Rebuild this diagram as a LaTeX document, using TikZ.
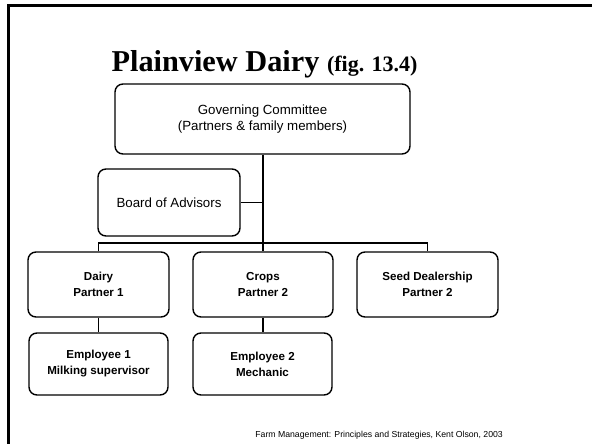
\documentclass[tikz,border=0pt]{standalone}
\usepackage{fontspec}
\setmainfont{Liberation Sans}
\newfontfamily\titlefont{Liberation Serif}
\begin{document}
\begin{tikzpicture}[x=1pt,y=-1pt,
  orgbox/.style={draw=black,line width=1.4pt,rounded corners=8pt,align=center,inner sep=0pt},
  plainbox/.style={orgbox,font=\fontsize{13.3}{15.5}\selectfont},
  boldbox/.style={orgbox,font=\bfseries\fontsize{11.6}{16}\selectfont},
  link/.style={draw=black,line width=1.4pt}]
  \useasboundingbox (0,0) rectangle (592,444);
  % slide frame
  \draw[line width=3pt] (8,444) -- (8,6) -- (592,6);
  % title
  \node[anchor=base,inner sep=0pt] (title) at (264.5,71)
    {\titlefont\bfseries\fontsize{30.3}{34}\selectfont Plainview Dairy \fontsize{22}{26}\selectfont(fig. 13.4)};
  % boxes
  \node[plainbox,minimum width=295pt,minimum height=70pt] (gc) at (262.5,119)
    {Governing Committee\\(Partners \& family members)};
  \node[plainbox,minimum width=142pt,minimum height=67pt] (boa) at (169,202.5)
    {Board of Advisors};
  \node[boldbox,minimum width=141pt,minimum height=65pt] (dairy) at (98.5,284.5)
    {Dairy\\Partner 1};
  \node[boldbox,minimum width=140pt,minimum height=65pt] (crops) at (263,284.5)
    {Crops\\Partner 2};
  \node[boldbox,minimum width=141pt,minimum height=65pt] (seed) at (427.5,284.5)
    {Seed Dealership\\Partner 2};
  \node[boldbox,minimum width=139pt,minimum height=62pt] (emp1) at (98.5,364)
    {Employee 1\\Milking supervisor};
  \node[boldbox,minimum width=139pt,minimum height=62pt] (emp2) at (262.5,364)
    {Employee 2\\Mechanic};
  % connectors
  \coordinate (bus) at (263,243);
  \draw[link] (gc.south -| bus) -- (crops.north -| bus);
  \draw[link] (boa.east) -- (boa.east -| bus);
  \draw[link] (dairy.north) |- (bus) -| (seed.north);
  \draw[link] (dairy.south) -- (emp1.north -| dairy.south);
  \draw[link] (crops.south -| bus) -- (emp2.north -| bus);
  % source line
  \node[anchor=east,inner sep=0pt,font=\fontsize{8.7}{10}\selectfont] (src) at (503,435)
    {Farm Management: Principles and Strategies, Kent Olson, 2003};
\end{tikzpicture}
\end{document}
